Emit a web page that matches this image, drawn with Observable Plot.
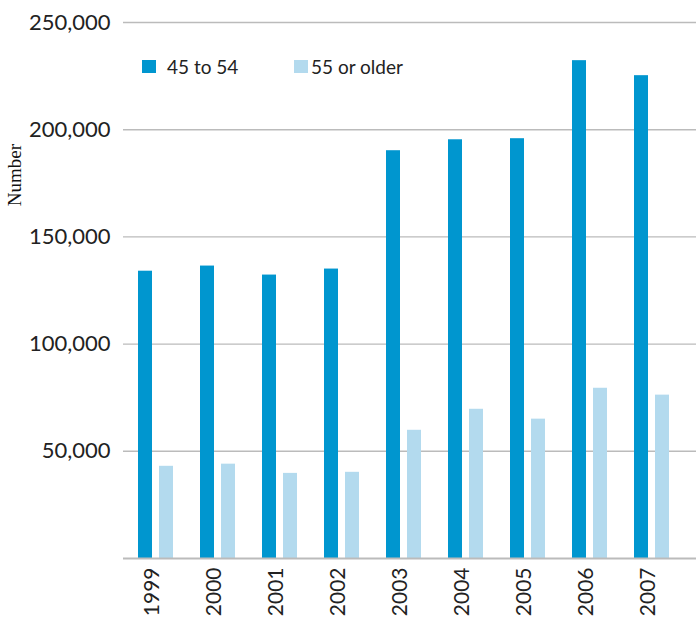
<!DOCTYPE html>
<html>
<head>
<meta charset="utf-8">
<script src="https://cdn.jsdelivr.net/npm/d3@7"></script>
<script src="https://cdn.jsdelivr.net/npm/@observablehq/plot@0.6"></script>
<style>
  body { margin: 0; background: #fff; }
  #wrap { position: relative; width: 696px; height: 620px; font-family: Lato, "Open Sans", sans-serif; color: #222; }
  .legend { position: absolute; top: 55px; display: flex; align-items: center; font-size: 19px; color: #222; }
  .sw { width: 14px; height: 13px; display: inline-block; }
  #ylab { position: absolute; left: 15px; top: 175px; transform: translate(-50%, -50%) rotate(-90deg); font-family: "Liberation Serif", "DejaVu Serif", serif; font-size: 19px; color: #111; white-space: nowrap; }
</style>
</head>
<body>
<div id="wrap"></div>
<script>
const years = ["1999", "2000", "2001", "2002", "2003", "2004", "2005", "2006", "2007"];
const age45to54 = [134000, 136400, 132200, 135000, 190200, 195300, 195800, 232200, 225200];
const age55plus = [43000, 44000, 39700, 40200, 59800, 69600, 65000, 79400, 76200];
const yTicks = [50000, 100000, 150000, 200000, 250000];
const seriesNames = ["45 to 54", "55 or older"];
const colors = ["#0096cf", "#b3daee"];

const d1 = years.map((y, i) => ({year: y, value: age45to54[i]}));
const d2 = years.map((y, i) => ({year: y, value: age55plus[i]}));

const chart = Plot.plot({
  width: 696,
  height: 620,
  marginTop: 22,
  marginBottom: 62,
  marginLeft: 123,
  marginRight: 0,
  style: {fontFamily: "Lato, 'Open Sans', sans-serif", color: "#222", background: "#fff"},
  x: {domain: years, paddingInner: 0.44, paddingOuter: 0.304, align: 0.35},
  y: {domain: [0, 250000]},
  marks: [
    Plot.ruleY(yTicks, {stroke: "#bbb", strokeWidth: 1.4}),
    Plot.barY(d1, {x: "year", y: "value", fill: colors[0], insetRight: 21}),
    Plot.barY(d2, {x: "year", y: "value", fill: colors[1], insetLeft: 21}),
    Plot.ruleY([0], {stroke: "#bbb", strokeWidth: 2.2}),
    Plot.axisY(yTicks, {tickSize: 0, tickPadding: 13, tickFormat: d3.format(","), fontSize: 22, label: null}),
    Plot.axisX({tickSize: 0, tickRotate: -90, tickPadding: 9, fontSize: 21, label: null, dx: -4})
  ]
});

const wrap = document.getElementById("wrap");
wrap.appendChild(chart);

const legendPos = [142, 294];
seriesNames.forEach((name, i) => {
  const lg = document.createElement("div");
  lg.className = "legend";
  lg.style.left = legendPos[i] + "px";
  const sw = document.createElement("span");
  sw.className = "sw";
  sw.style.background = colors[i];
  const tx = document.createElement("span");
  tx.textContent = name;
  tx.style.marginLeft = i === 0 ? "11px" : "3px";
  lg.appendChild(sw);
  lg.appendChild(tx);
  wrap.appendChild(lg);
});

const yl = document.createElement("div");
yl.id = "ylab";
yl.textContent = "Number";
wrap.appendChild(yl);
</script>
</body>
</html>
